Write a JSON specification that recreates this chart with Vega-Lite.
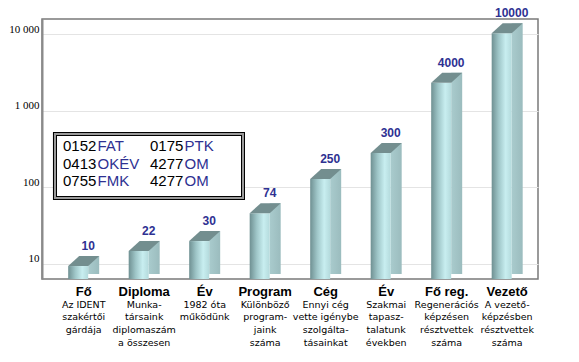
{
  "$schema": "https://vega.github.io/schema/vega-lite/v6.json",
  "width": 496,
  "height": 260,
  "autosize": {"type": "none"},
  "padding": {"left": 42, "top": 19, "right": 41, "bottom": 83},
  "background": "white",
  "config": {"view": {"stroke": "#7a7a7a", "strokeWidth": 1.5}, "font": "Liberation Sans"},
  "datasets": {
    "bars": [
      {"key": "Fő|Az IDENT|szakértői|gárdája", "label": "10", "bar": 9.4},
      {"key": "Diploma|Munka-|társaink|diplomaszám|a összesen", "label": "22", "bar": 14.8},
      {"key": "Év|1982 óta|működünk", "label": "30", "bar": 19.9},
      {"key": "Program|Különböző|program-|jaink|száma", "label": "74", "bar": 46},
      {"key": "Cég|Ennyi cég|vette igénybe|szolgálta-|tásainkat", "label": "250", "bar": 128},
      {"key": "Év|Szakmai|tapasz-|talatunk|években", "label": "300", "bar": 280},
      {"key": "Fő reg.|Regenerációs|képzésen|résztvettek|száma", "label": "4000", "bar": 2320},
      {"key": "Vezető|A vezető-|képzésben|résztvettek|száma", "label": "10000", "bar": 10200}
    ],
    "box": [
      {"num": "0152", "org": "FAT", "col": 0, "row": 0},
      {"num": "0413", "org": "OKÉV", "col": 0, "row": 1},
      {"num": "0755", "org": "FMK", "col": 0, "row": 2},
      {"num": "0175", "org": "PTK", "col": 1, "row": 0},
      {"num": "4277", "org": "OM", "col": 1, "row": 1},
      {"num": "4277", "org": "OM", "col": 1, "row": 2}
    ]
  },
  "layer": [
    {
      "data": {"name": "bars"},
      "resolve": {"axis": {"x": "independent"}},
      "layer": [
        {
          "mark": {"type": "bar", "width": 11, "xOffset": 10, "yOffset": -10, "y2Offset": -5,
            "fill": {"gradient": "linear", "x1": 0, "y1": 0, "x2": 1, "y2": 0,
              "stops": [{"offset": 0, "color": "#a9cbcd"}, {"offset": 1, "color": "#9bbcbe"}]}},
          "encoding": {
            "x": {"field": "key", "type": "nominal", "sort": null,
              "scale": {"paddingInner": 0.4876, "paddingOuter": 0.343, "align": 0.631}, "axis": null},
            "y": {"field": "bar", "type": "quantitative",
              "scale": {"type": "log", "domain": [6.37, 15700], "nice": false, "zero": false},
              "axis": {"values": [10, 100, 1000, 10000], "format": ",d",
                "labelExpr": "replace(datum.label, ',', ' ')", "ticks": false,
                "labelFont": "Liberation Serif", "labelFontSize": 11, "labelColor": "#000",
                "labelPadding": 3, "labelOffset": -5, "domainColor": "#8a8a8a", "domainWidth": 2,
                "grid": true, "gridColor": "#e4e4e4", "title": null}},
            "y2": {"datum": 6.37}
          }
        },
        {
          "mark": {"type": "bar", "width": 20, "xOffset": -5.5,
            "fill": {"gradient": "linear", "x1": 0, "y1": 0, "x2": 1, "y2": 0,
              "stops": [{"offset": 0, "color": "#6f9092"}, {"offset": 0.35, "color": "#9fc6c8"},
                {"offset": 0.7, "color": "#c8eef0"}, {"offset": 1, "color": "#b4dadc"}]}},
          "encoding": {
            "x": {"field": "key", "type": "nominal", "sort": null,
              "scale": {"paddingInner": 0.4876, "paddingOuter": 0.343, "align": 0.631},
              "axis": {"orient": "bottom", "title": null, "labelExpr": "split(datum.label, '|')[0]",
                "labelFont": "Liberation Sans", "labelFontWeight": "bold", "labelFontSize": 13,
                "labelColor": "#000", "labelPadding": 6, "ticks": false, "domain": false,
                "grid": false, "labelAngle": 0, "labelBaseline": "top", "labelOverlap": false}},
            "y": {"field": "bar", "type": "quantitative",
              "scale": {"type": "log", "domain": [6.37, 15700], "nice": false, "zero": false}},
            "y2": {"datum": 6.37}
          }
        },
        {
          "mark": {"type": "point", "shape": "M-1.55,0L0.45,0L1.55,-1L-0.45,-1Z", "size": 400,
            "filled": true, "opacity": 1, "color": "#738e8f", "strokeWidth": 0},
          "encoding": {
            "x": {"field": "key", "type": "nominal", "sort": null,
              "scale": {"paddingInner": 0.4876, "paddingOuter": 0.343, "align": 0.631}, "axis": null},
            "y": {"field": "bar", "type": "quantitative",
              "scale": {"type": "log", "domain": [6.37, 15700], "nice": false, "zero": false}}
          }
        },
        {
          "mark": {"type": "text", "dy": -20, "dx": 4.5, "font": "Liberation Sans", "fontWeight": "bold",
            "fontSize": 12, "color": "#2E3192", "baseline": "middle"},
          "encoding": {
            "x": {"field": "key", "type": "nominal", "sort": null,
              "scale": {"paddingInner": 0.4876, "paddingOuter": 0.343, "align": 0.631},
              "axis": {"orient": "bottom", "title": null, "labelExpr": "slice(split(datum.label, '|'), 1)",
                "labelFont": "DejaVu Sans", "labelFontSize": 9.5, "labelLineHeight": 12.7,
                "labelColor": "#000", "labelPadding": 20, "ticks": false, "domain": false,
                "grid": false, "labelAngle": 0, "labelBaseline": "top", "labelOverlap": false}},
            "y": {"field": "bar", "type": "quantitative",
              "scale": {"type": "log", "domain": [6.37, 15700], "nice": false, "zero": false}},
            "text": {"field": "label"}
          }
        }
      ]
    },
    {
      "data": {"name": "box"},
      "layer": [
        {
          "mark": {"type": "rect", "fill": "white", "stroke": "#000", "strokeWidth": 4},
          "encoding": {
            "x": {"datum": -0.092, "type": "quantitative", "scale": {"domain": [0, 1], "range": [21, 108], "nice": false, "zero": false}, "axis": null},
            "x2": {"datum": 2.069},
            "y": {"datum": -0.686, "type": "quantitative", "scale": {"domain": [0, 2], "range": [127, 162], "nice": false, "zero": false}, "axis": null},
            "y2": {"datum": 2.971}
          }
        },
        {
          "mark": {"type": "rect", "fill": null, "stroke": "#9a9a9a", "strokeWidth": 1.3},
          "encoding": {
            "x": {"datum": -0.092, "type": "quantitative", "scale": {"domain": [0, 1], "range": [21, 108], "nice": false, "zero": false}, "axis": null},
            "x2": {"datum": 2.069},
            "y": {"datum": -0.686, "type": "quantitative", "scale": {"domain": [0, 2], "range": [127, 162], "nice": false, "zero": false}, "axis": null},
            "y2": {"datum": 2.971}
          }
        },
        {
          "mark": {"type": "text", "align": "left", "baseline": "middle", "font": "Liberation Sans", "fontSize": 15, "color": "#000"},
          "encoding": {
            "x": {"field": "col", "type": "quantitative", "scale": {"domain": [0, 1], "range": [21, 108], "nice": false, "zero": false}, "axis": null},
            "y": {"field": "row", "type": "quantitative", "scale": {"domain": [0, 2], "range": [127, 162], "nice": false, "zero": false}, "axis": null},
            "text": {"field": "num"}
          }
        },
        {
          "mark": {"type": "text", "align": "left", "baseline": "middle", "dx": 34.5, "font": "Liberation Sans", "fontSize": 15, "color": "#2E3192"},
          "encoding": {
            "x": {"field": "col", "type": "quantitative", "scale": {"domain": [0, 1], "range": [21, 108], "nice": false, "zero": false}, "axis": null},
            "y": {"field": "row", "type": "quantitative", "scale": {"domain": [0, 2], "range": [127, 162], "nice": false, "zero": false}, "axis": null},
            "text": {"field": "org"}
          }
        }
      ]
    }
  ],
  "resolve": {"scale": {"x": "independent", "y": "independent"}, "axis": {"x": "independent", "y": "independent"}}
}
